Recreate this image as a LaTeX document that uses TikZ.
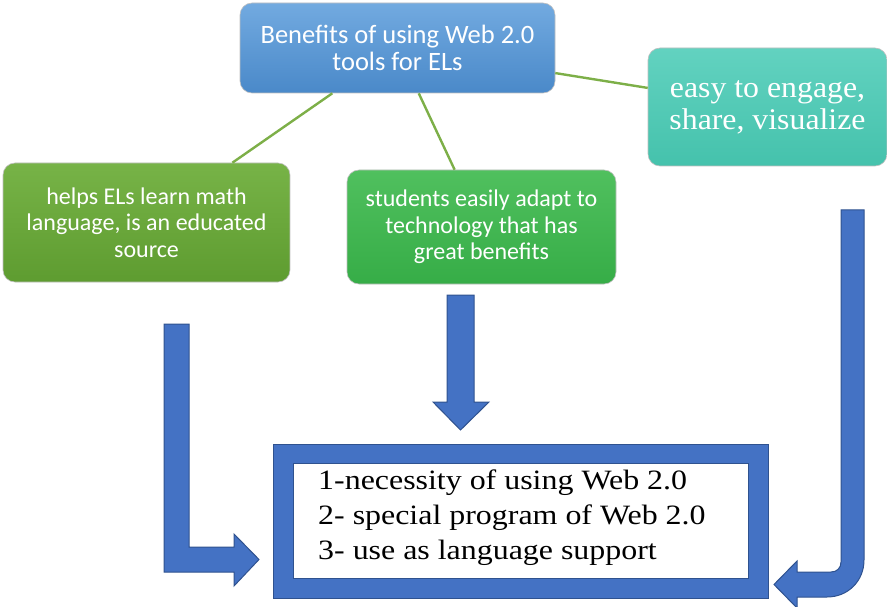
\documentclass[tikz,border=0pt]{standalone}
\usepackage{fontspec}
\setmainfont{Liberation Serif}
\newfontfamily\calibri{Carlito}
\newfontfamily\wideserif[FakeStretch=1.06]{Liberation Serif}
\newfontfamily\listserif[FakeStretch=1.14]{Liberation Serif}

\definecolor{arrowblue}{HTML}{4472C4}
\definecolor{arrowline}{HTML}{2F528F}
\definecolor{linkgreen}{HTML}{7DAF48}
\definecolor{bluetop}{HTML}{72AAE0}
\definecolor{bluebot}{HTML}{4A89C9}
\definecolor{tealtop}{HTML}{62D2C0}
\definecolor{tealbot}{HTML}{45C2AC}
\definecolor{olivetop}{HTML}{77B347}
\definecolor{olivebot}{HTML}{5E9C30}
\definecolor{greentop}{HTML}{50C05E}
\definecolor{greenbot}{HTML}{36AD47}

\begin{document}
\begin{tikzpicture}[x=1pt,y=-1pt,
    bubble/.style={rounded corners=12pt, align=center, text=white,
      draw=black!25, line width=0.6pt},
    sans/.style={font=\calibri\fontsize{24}{26.5}\selectfont},
    link/.style={draw=linkgreen, line width=2.4pt},
    fatarrow/.style={fill=arrowblue, draw=arrowline, line width=1pt}]
  \useasboundingbox (0,0) rectangle (887,607);

  % arrows first, so the boxes sit on top
  % left: down and then right
  \path[fatarrow] (164,324) -- (189,324) -- (189,547) -- (234,547)
    -- (234,534) -- (259,559.5) -- (234,586) -- (234,572) -- (164,572) -- cycle;
  % middle: straight down
  \path[fatarrow] (447,295) -- (474,295) -- (474,402) -- (489,402)
    -- (460.5,430) -- (433,402) -- (447,402) -- cycle;
  % right: down, bend, then left
  \path[fatarrow] (841,210) -- (864,210) -- (864,560)
    .. controls (864,581) and (848,597) .. (827,597) -- (797,597)
    -- (797,608) -- (774,584.5) -- (797,561) -- (797,572) -- (831,572)
    .. controls (837,572) and (841,568) .. (841,562) -- cycle;

  % boxes
  \node[bubble, font=\calibri\fontsize{26.5}{27}\selectfont,
    top color=bluetop, bottom color=bluebot,
    minimum width=315pt, minimum height=90pt] (benefits) at (397.5,48)
    {Benefits of using Web 2.0\\tools for ELs};
  \node[bubble, font=\wideserif\fontsize{30}{32}\selectfont,
    top color=tealtop, bottom color=tealbot,
    minimum width=239pt, minimum height=118pt] (engage) at (767.5,107)
    {easy to engage,\\share, visualize};
  \node[bubble, sans, top color=olivetop, bottom color=olivebot,
    minimum width=287pt, minimum height=119pt] (helps) at (146.5,222.5)
    {helps ELs learn math\\language, is an educated\\source};
  \node[bubble, sans, top color=greentop, bottom color=greenbot,
    minimum width=269pt, minimum height=114pt] (adapt) at (481.5,227)
    {students easily adapt to\\technology that has\\great benefits};

  % links
  \path[link] (benefits) -- (helps);
  \path[link] (benefits) -- (adapt);
  \path[link] (benefits) -- (engage);

  % bottom frame with the list
  \draw[fatarrow] (273,444) rectangle (768,598);
  \draw[fill=white, draw=arrowline, line width=1pt] (293,463) rectangle (748,578);
  \node[align=left, anchor=west, inner sep=0pt,
    font=\listserif\fontsize{28}{35}\selectfont] (list) at (318,518)
    {1-necessity of using Web 2.0\\ 2- special program of Web 2.0\\ 3- use as language support};
\end{tikzpicture}
\end{document}
